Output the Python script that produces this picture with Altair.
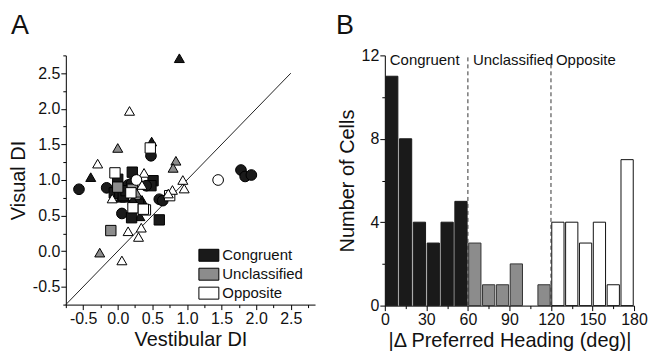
import altair as alt
import pandas as pd

FONT = "Liberation Sans"

# ---------------- Panel A data ----------------
vest_di = [-0.56, -0.39, -0.16, 0.00, -0.05, 0.03, 0.04, 0.11, 0.08, 0.15, 0.21, 0.51, 0.48, 0.41,
           0.35, 0.33, 0.32, 0.06, 0.20, 0.60, 0.60, 0.65, 0.49, 0.48, 0.89, 1.78, 1.84, 1.93, 0.30,
           0.20, 0.12, 0.22,
           0.00, 0.84, 0.80, 0.00, 0.21, 0.27, -0.10, -0.26,
           -0.29, 0.17, 0.47, -0.04, 0.38, 0.27, 0.35, 0.19, -0.08, 0.75, 0.79, 0.73, 0.94, 0.96,
           0.22, 0.40, 0.37, 0.15, 0.34, 0.30, 0.06, 1.45]
vis_di = [0.87, 1.04, 0.89, 1.01, 0.82, 0.81, 0.75, 0.75, 0.78, 0.93, 1.11, 0.99, 0.92, 0.92,
          0.72, 0.62, 0.49, 0.53, 0.47, 0.44, 0.73, 0.71, 1.54, 1.34, 2.71, 1.14, 1.05, 1.07, 0.66,
          0.95, 0.85, 0.72,
          1.45, 1.27, 1.17, 0.90, 0.87, 0.82, 0.29, -0.02,
          1.23, 1.97, 1.45, 1.10, 1.10, 1.00, 0.93, 0.82, 0.74, 0.78, 0.86, 0.81, 1.00, 0.88,
          0.61, 0.58, 0.59, 0.28, 0.33, 0.20, -0.13, 1.00]
marker = ["circle", "triangle", "circle", "square", "square", "square", "triangle", "triangle",
          "square", "circle", "square", "square", "square", "circle", "triangle", "triangle",
          "triangle", "circle", "square", "square", "circle", "circle", "triangle", "circle",
          "triangle", "circle", "circle", "circle", "square", "circle", "square", "triangle",
          "triangle", "triangle", "triangle", "square", "square", "triangle", "square", "triangle",
          "triangle", "triangle", "square", "square", "triangle", "circle", "triangle", "square",
          "triangle", "square", "triangle", "triangle", "triangle", "triangle", "square", "square",
          "square", "triangle", "triangle", "triangle", "triangle", "circle"]
cell_class = ["Congruent"] * 32 + ["Unclassified"] * 8 + ["Opposite"] * 22
diag = [-0.75, 2.5]

# ---------------- Panel B data ----------------
bin_lo = list(range(0, 180, 10))
counts = [11, 8, 4, 3, 4, 5, 3, 1, 1, 2, 0, 1, 4, 4, 3, 4, 1, 7]
bar_class = ["Congruent"] * 6 + ["Unclassified"] * 6 + ["Opposite"] * 6
boundaries = [60, 120]
region_names = ["Congruent", "Unclassified", "Opposite"]
region_start = [0, 60, 120]

classes = ["Congruent", "Unclassified", "Opposite"]
fills = ["#1a1a1a", "#8c8c8c", "#ffffff"]
edges = ["#1a1a1a", "#333333", "#111111"]

minor_test = "(datum.value * 4) % 2 != 0"
labelA = ("(datum.value * 4) % 2 != 0 ? '' : "
          "(datum.value < 0 ? '-' + substring(datum.label, 1) : datum.label)")

ticksA = [-0.75 + 0.25 * i for i in range(15)]


def axis_common(**kw):
    return alt.Axis(
        grid=False, domainColor="black", tickColor="black", labelColor="#111",
        titleColor="#111", labelFont=FONT, titleFont=FONT, labelFontSize=16,
        titleFontSize=20, titleFontWeight="normal", tickCount=40, **kw)


scatter_df = pd.DataFrame({"x": vest_di, "y": vis_di, "shape": marker, "cls": cell_class})
diag_df = pd.DataFrame({"x": diag, "y": diag})

xA = alt.X("x:Q", scale=alt.Scale(domain=[-0.75, 2.85], nice=False, zero=False),
           axis=axis_common(title="Vestibular DI", values=ticksA, format=".1f",
                            labelExpr=labelA,
                            tickSize={"condition": {"test": minor_test, "value": 3}, "value": 5},
                            labelPadding=1, titlePadding=3, labelFlush=False, labelOverlap=False))
yA = alt.Y("y:Q", scale=alt.Scale(domain=[-0.75, 2.75], nice=False, zero=False),
           axis=axis_common(title="Visual DI", values=ticksA, format=".1f",
                            labelExpr=labelA,
                            tickSize={"condition": {"test": minor_test, "value": 3}, "value": 5},
                            labelPadding=1, titlePadding=4, labelFlush=False, labelOverlap=False))

line = alt.Chart(diag_df).mark_line(color="#222", strokeWidth=1).encode(x=xA, y=yA)
pts = alt.Chart(scatter_df).mark_point(filled=True, opacity=1, stroke="black",
                                       strokeWidth=1).encode(
    x="x:Q", y="y:Q",
    shape=alt.Shape("shape:N", scale=alt.Scale(domain=["circle", "square", "triangle"],
                                                range=["circle", "square", "triangle-up"]),
                    legend=None),
    size=alt.Size("shape:N", scale=alt.Scale(domain=["circle", "square", "triangle"],
                                             range=[115, 100, 150]), legend=None),
    fill=alt.Fill("cls:N", scale=alt.Scale(domain=classes, range=fills),
                  legend=alt.Legend(title=None, orient="none", legendX=135, legendY=192,
                                    symbolType="M-1.25,-0.75H1.25V0.75H-1.25Z", symbolSize=256,
                                    symbolStrokeColor="black", symbolStrokeWidth=1,
                                    labelFont=FONT, labelFontSize=15, labelColor="#111",
                                    rowPadding=2, labelOffset=5)),
)

panelA = alt.layer(line, pts).properties(
    width=250, height=250,
    title=alt.TitleParams("A", anchor="start", frame="group", fontSize=27, font=FONT,
                          fontWeight="normal", dx=-55, offset=7, color="#111"))

# ---------------- Panel B ----------------
hist_df = pd.DataFrame({"lo": bin_lo, "n": counts, "cls": bar_class})
bnd_df = pd.DataFrame({"b": boundaries})
reg_df = pd.DataFrame({"name": region_names, "start": region_start})

xB = alt.X("lo:Q", scale=alt.Scale(domain=[0, 180], nice=False),
           axis=axis_common(title="|\u0394 Preferred Heading (deg)|", format="d",
                            values=list(range(0, 181, 15)),
                            labelExpr="datum.value % 30 ? '' : datum.label",
                            tickSize={"condition": {"test": "datum.value % 30", "value": 3}, "value": 5},
                            labelPadding=1, titlePadding=3, labelFlush=False, labelOverlap=False))
yB = alt.Y("n:Q", scale=alt.Scale(domain=[0, 12], nice=False),
           axis=axis_common(title="Number of Cells", values=list(range(0, 13, 2)), format="d",
                            labelExpr="datum.value % 4 ? '' : datum.label",
                            tickSize={"condition": {"test": "datum.value % 4", "value": 3}, "value": 5},
                            labelPadding=1, titlePadding=4, labelOverlap=False))

bars = alt.Chart(hist_df).transform_filter("datum.n > 0").transform_calculate(
    hi="datum.lo + 10").mark_bar(xOffset=0.8, x2Offset=-0.8, strokeWidth=1).encode(
    x=xB, x2="hi:Q", y=yB, y2=alt.datum(0),
    fill=alt.Fill("cls:N", scale=alt.Scale(domain=classes, range=fills), legend=None),
    stroke=alt.Stroke("cls:N", scale=alt.Scale(domain=classes, range=edges), legend=None),
)
rules = alt.Chart(bnd_df).mark_rule(color="#333", strokeDash=[4, 3], strokeWidth=1).encode(
    x="b:Q", y=alt.datum(0), y2=alt.datum(12))
labels = alt.Chart(reg_df).mark_text(align="left", baseline="middle", dx=5, fontSize=15,
                                     font=FONT, color="#111").encode(
    x="start:Q", y=alt.datum(11.78), text="name:N")

panelB = alt.layer(bars, rules, labels).properties(
    width=250, height=251,
    title=alt.TitleParams("B", anchor="start", frame="group", fontSize=27, font=FONT,
                          fontWeight="normal", dx=-49, offset=7, color="#111"))

chart = alt.hconcat(panelA, panelB, spacing=21).resolve_scale(
    fill="independent", shape="independent", stroke="independent", size="independent",
    x="independent", y="independent").configure_view(stroke=None).properties(
    padding={"top": 4, "left": 0, "right": 0, "bottom": 0})

chart.save("out.html", embed_options={"renderer": "svg", "actions": False})
